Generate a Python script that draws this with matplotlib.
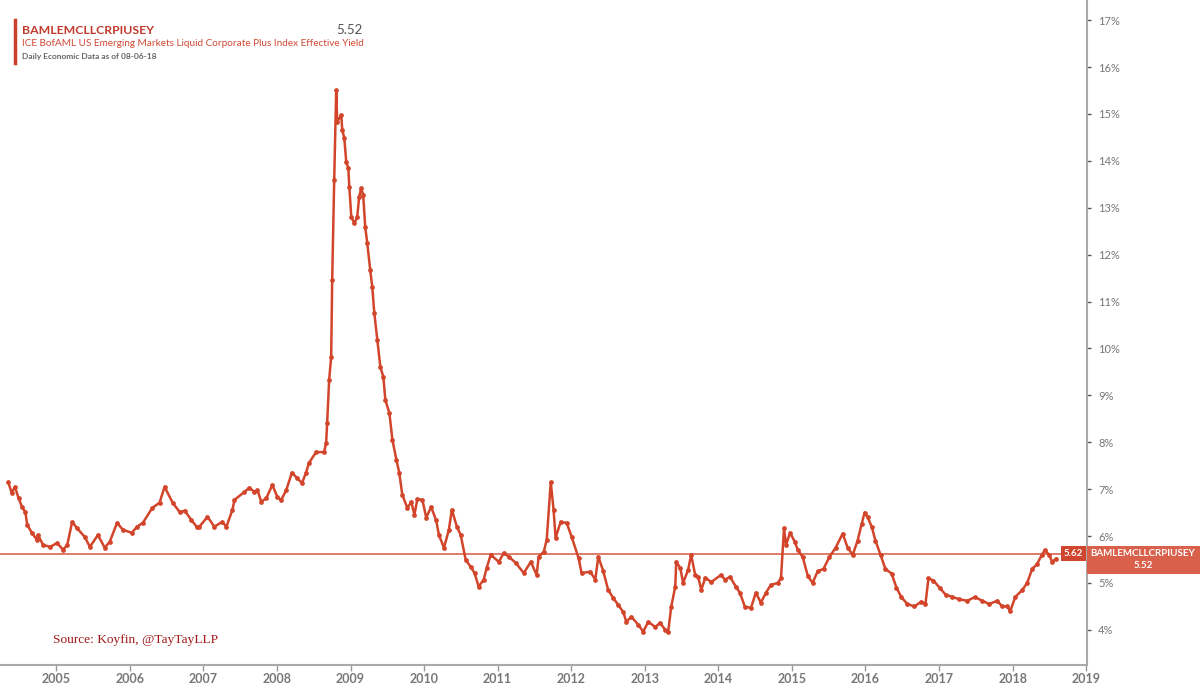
import matplotlib
matplotlib.use("Agg")
import matplotlib.pyplot as plt
import pandas as pd

dates = [
"2004-05-08","2004-05-25","2004-06-10","2004-06-28","2004-07-15","2004-08-01","2004-08-10","2004-09-02","2004-09-27","2004-10-03","2004-10-28","2004-12-02",
"2005-01-05","2005-02-04","2005-02-25","2005-03-21","2005-04-14","2005-05-23","2005-06-17","2005-07-27","2005-08-30","2005-09-24","2005-10-30","2005-11-29",
"2006-01-12","2006-02-06","2006-03-07","2006-04-23","2006-05-29","2006-06-23","2006-08-02","2006-09-06","2006-10-01","2006-11-03","2006-11-29","2006-12-13",
"2007-01-22","2007-02-25","2007-04-05","2007-04-26","2007-05-26","2007-06-05","2007-07-24","2007-08-18","2007-09-12","2007-09-27","2007-10-16","2007-11-10","2007-12-10",
"2008-01-04","2008-01-23","2008-02-17","2008-03-16","2008-04-10","2008-05-05","2008-05-25","2008-06-09","2008-07-14","2008-08-23","2008-09-02","2008-09-07","2008-09-17","2008-09-27","2008-10-02","2008-10-12","2008-10-22","2008-10-27","2008-11-16","2008-11-21","2008-12-01","2008-12-11","2008-12-21","2008-12-26",
"2009-01-05","2009-01-20","2009-02-03","2009-02-13","2009-02-23","2009-03-05","2009-03-15","2009-03-25","2009-04-09","2009-04-19","2009-04-29","2009-05-14","2009-05-29","2009-06-13","2009-06-23","2009-07-13","2009-07-28","2009-08-17","2009-08-31","2009-09-15","2009-10-10","2009-10-30","2009-11-14","2009-11-29","2009-12-24",
"2010-01-12","2010-02-05","2010-03-02","2010-03-16","2010-04-10","2010-05-04","2010-05-19","2010-06-13","2010-07-02","2010-07-27","2010-08-21","2010-09-09","2010-09-29","2010-10-24","2010-11-08","2010-11-28",
"2011-01-07","2011-02-01","2011-02-25","2011-04-01","2011-05-11","2011-06-15","2011-07-14","2011-07-24","2011-08-18","2011-09-02","2011-09-22","2011-10-06","2011-10-16","2011-11-10","2011-12-10",
"2012-01-04","2012-02-07","2012-02-22","2012-04-05","2012-04-30","2012-05-15","2012-06-08","2012-07-03","2012-07-28","2012-08-22","2012-09-16","2012-10-01","2012-10-26","2012-11-29","2012-12-24",
"2013-01-18","2013-02-22","2013-03-18","2013-04-12","2013-04-27","2013-05-12","2013-06-01","2013-06-06","2013-06-26","2013-07-10","2013-08-04","2013-08-19","2013-09-08","2013-09-23","2013-10-08","2013-10-28","2013-11-27",
"2014-01-14","2014-02-03","2014-02-28","2014-03-29","2014-04-18","2014-05-13","2014-06-12","2014-07-06","2014-07-31","2014-08-25","2014-09-19","2014-10-24","2014-11-08","2014-11-23","2014-12-03","2014-12-23",
"2015-01-15","2015-01-30","2015-02-24","2015-03-21","2015-04-14","2015-05-09","2015-06-07","2015-07-06","2015-08-06","2015-09-10","2015-10-05","2015-10-30","2015-11-23","2015-12-13","2015-12-28",
"2016-01-12","2016-02-01","2016-02-20","2016-03-16","2016-04-09","2016-05-10","2016-06-03","2016-06-27","2016-07-27","2016-08-31","2016-10-05","2016-10-25","2016-11-09","2016-12-04",
"2017-01-03","2017-02-02","2017-03-08","2017-04-12","2017-05-21","2017-06-28","2017-08-02","2017-09-07","2017-10-16","2017-11-10","2017-12-05","2017-12-20",
"2018-01-14","2018-02-18","2018-03-14","2018-04-08","2018-05-02","2018-05-26","2018-06-10","2018-07-01","2018-07-16","2018-08-06",
]
values = [
7.15,6.92,7.05,6.81,6.62,6.51,6.24,6.07,5.92,6.02,5.81,5.77,
5.85,5.71,5.81,6.30,6.17,5.98,5.77,6.02,5.75,5.88,6.28,6.13,
6.07,6.20,6.28,6.60,6.71,7.05,6.71,6.51,6.54,6.34,6.20,6.20,
6.41,6.20,6.30,6.20,6.56,6.77,6.94,7.03,6.94,6.98,6.73,6.81,7.09,
6.83,6.77,6.98,7.35,7.24,7.13,7.35,7.56,7.79,7.79,7.99,8.41,9.33,9.82,11.46,13.59,15.51,14.83,14.98,14.66,14.49,13.97,13.85,13.44,
12.80,12.67,12.80,13.23,13.42,13.27,12.59,12.25,11.67,11.31,10.76,10.18,9.61,9.39,8.90,8.62,8.05,7.62,7.35,6.88,6.60,6.73,6.45,6.79,6.77,
6.39,6.62,6.34,6.02,5.75,6.13,6.56,6.20,6.02,5.49,5.34,5.21,4.92,5.07,5.32,5.60,
5.45,5.64,5.56,5.43,5.21,5.45,5.17,5.56,5.66,5.92,7.15,6.56,5.96,6.30,6.28,
5.98,5.53,5.21,5.24,5.07,5.56,5.26,4.85,4.68,4.53,4.38,4.17,4.28,4.11,3.96,
4.17,4.06,4.15,4.00,3.96,4.49,4.92,5.45,5.32,5.00,5.28,5.60,5.17,5.13,4.85,5.11,5.02,
5.17,5.07,5.13,4.92,4.79,4.49,4.47,4.79,4.58,4.79,4.96,5.00,5.11,6.17,5.81,6.07,
5.88,5.71,5.55,5.15,5.00,5.25,5.30,5.55,5.75,6.05,5.75,5.60,5.90,6.25,6.50,
6.40,6.20,5.90,5.60,5.30,5.20,4.90,4.70,4.55,4.50,4.60,4.55,5.10,5.05,
4.90,4.75,4.70,4.65,4.62,4.70,4.62,4.55,4.62,4.50,4.50,4.40,
4.70,4.85,5.00,5.30,5.40,5.60,5.70,5.60,5.45,5.52,
]
ref_level = 5.62
last_value = 5.52
series_name = "BAMLEMCLLCRPIUSEY"
series_desc = "ICE BofAML US Emerging Markets Liquid Corporate Plus Index Effective Yield"
data_note = "Daily Economic Data as of 08-06-18"
source_note = "Source: Koyfin, @TayTayLLP"
years = list(range(2005, 2020))
yticks = list(range(4, 18))

plt.rcParams['font.family'] = ['Lato', 'DejaVu Sans']
RED = "#D2452B"
GRAY = "#777777"

d = pd.to_datetime(dates)
fig = plt.figure(figsize=(12, 6.93), dpi=100)
ax = fig.add_axes([0.0, 28/693, 1087/1200, 1 - 28/693])

ax.plot(d, values, color=RED, lw=1.8, marker='o', ms=2.4, mec=RED, mfc=RED)
ax.axhline(ref_level, color="#D8664E", lw=1.2, zorder=1)

ax.set_xlim(pd.Timestamp("2004-03-28"), pd.Timestamp("2019-01-05"))
ax.set_ylim(3.25, 17.43)

ax.set_xticks([pd.Timestamp(f"{y}-01-01") for y in years])
ax.set_xticklabels([str(y) for y in years], fontsize=9, fontweight='bold', color=GRAY)
ax.yaxis.tick_right()
ax.set_yticks(yticks)
ax.set_yticklabels([f"{v}%" for v in yticks], fontsize=8, color=GRAY)
ax.tick_params(axis='y', length=3, width=1, color="#555555", pad=5, direction='out')
ax.tick_params(axis='x', length=4, width=1, color="#999999", pad=2)

for s in ['top', 'left']:
    ax.spines[s].set_visible(False)
for s in ['right', 'bottom']:
    ax.spines[s].set_color("#AAAAAA")
    ax.spines[s].set_linewidth(1.5)

# header
fig.add_artist(plt.Line2D([15/1200, 15/1200], [1 - 20/693, 1 - 63/693], color="#C9402B", lw=2.5))
fig.text(22/1200, 1 - 30/693, series_name, fontsize=8.8, fontweight='bold', color="#C0392B", va='center')
fig.text(362/1200, 1 - 30/693, f"{last_value:.2f}", fontsize=9.5, color="#555555", va='center', ha='right')
fig.text(22/1200, 1 - 44/693, series_desc, fontsize=7.2, color="#D04A35", va='center')
fig.text(22/1200, 1 - 57/693, data_note, fontsize=6, fontweight='bold', color="#666666", va='center')

# source
fig.text(53/1200, 1 - 640/693, source_note, fontsize=9.6, color="#A01818", va='center',
         family=['Liberation Serif', 'DejaVu Serif'])

# right labels
ax.annotate(f"{ref_level:.2f}", xy=(1.0, ref_level), xycoords=('axes fraction', 'data'),
            xytext=(-3, 0), textcoords='offset points', ha='right', va='center',
            fontsize=7, fontweight='bold', color='white',
            bbox=dict(boxstyle='square,pad=0.3', fc="#D0452E", ec='none'))
fig.patches.append(plt.Rectangle((1087/1200, 1 - 574/693), 113/1200, 28/693,
                                 transform=fig.transFigure, fc="#D9604A", ec='none'))
fig.text(1143/1200, 1 - 553/693, series_name, fontsize=7, fontweight='bold', color='white', ha='center', va='center')
fig.text(1143/1200, 1 - 566/693, f"{last_value:.2f}", fontsize=7, fontweight='bold', color='white', ha='center', va='center')

fig.savefig("out.png", dpi=100)
